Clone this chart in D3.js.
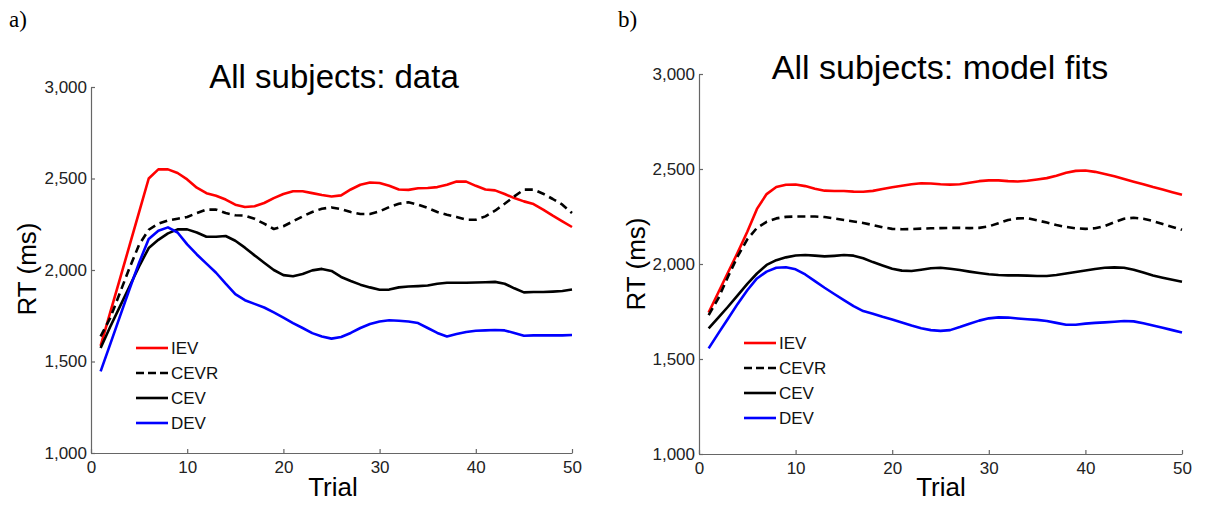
<!DOCTYPE html>
<html>
<head>
<meta charset="utf-8">
<script src="https://cdn.jsdelivr.net/npm/d3@7"></script>
<style>
  html, body { margin: 0; padding: 0; background: #fff; }
  svg { display: block; }
  .tick text { font-family: "Liberation Sans", Arial, sans-serif; font-size: 17px; fill: #222; }
</style>
</head>
<body>
<svg id="chart" width="1207" height="506"></svg>
<script>
// ---------- data ----------
const trials = d3.range(1, 51);
const seriesNames = ["IEV", "CEVR", "CEV", "DEV"];
const seriesColors = ["#ff0000", "#000000", "#000000", "#0000ff"];
const seriesDashed = [false, true, false, false];
const xTicks = [0, 10, 20, 30, 40, 50];
const yTicks = [1000, 1500, 2000, 2500, 3000];
const panelLetters = ["a)", "b)"];
const panelTitles = ["All subjects: data", "All subjects: model fits"];

// panel a: data
const dataIEV = [1585,1768,1950,2133,2316,2500,2550,2550,2530,2495,2450,2420,2406,2385,2357,2344,2348,2366,2393,2415,2430,2430,2420,2410,2402,2408,2440,2466,2478,2475,2460,2440,2438,2447,2448,2453,2466,2483,2483,2460,2440,2435,2415,2393,2375,2360,2330,2297,2266,2235];
const dataCEVR = [1637,1738,1874,2011,2138,2220,2253,2271,2280,2290,2311,2330,2330,2311,2299,2297,2280,2253,2224,2239,2266,2293,2317,2335,2342,2333,2317,2306,2306,2320,2344,2362,2370,2357,2339,2317,2302,2290,2275,2275,2293,2324,2362,2402,2439,2439,2417,2388,2357,2311];
const dataCEV = [1574,1690,1800,1910,2020,2120,2165,2200,2222,2222,2205,2182,2182,2186,2160,2122,2080,2040,2000,1972,1966,1978,1998,2006,1995,1962,1940,1920,1905,1892,1893,1905,1910,1912,1915,1925,1930,1930,1930,1932,1933,1935,1925,1900,1878,1880,1880,1882,1885,1893];
const dataDEV = [1446,1595,1745,1895,2040,2170,2215,2233,2205,2140,2085,2035,1985,1925,1868,1835,1815,1795,1768,1740,1710,1683,1655,1637,1625,1634,1656,1683,1705,1719,1725,1723,1719,1710,1683,1656,1637,1650,1661,1668,1670,1672,1670,1656,1641,1643,1643,1643,1643,1645];

// panel b: model fits
const fitIEV = [1745,1850,1955,2060,2170,2290,2368,2405,2417,2418,2410,2396,2386,2384,2384,2381,2380,2385,2395,2404,2412,2420,2425,2424,2420,2418,2420,2428,2436,2440,2440,2436,2434,2438,2445,2452,2465,2480,2490,2492,2485,2474,2462,2447,2433,2420,2405,2392,2378,2365];
const fitCEVR = [1731,1819,1933,2040,2130,2190,2222,2240,2248,2250,2250,2250,2247,2240,2232,2224,2216,2205,2193,2185,2183,2184,2186,2188,2189,2190,2190,2189,2190,2198,2215,2232,2240,2241,2230,2218,2205,2195,2188,2185,2188,2200,2220,2238,2243,2238,2226,2210,2195,2180];
const fitCEV = [1661,1718,1775,1835,1895,1950,1995,2020,2035,2045,2047,2044,2040,2043,2047,2044,2030,2010,1992,1975,1965,1963,1970,1978,1980,1975,1968,1960,1953,1946,1942,1940,1940,1939,1937,1937,1942,1950,1958,1966,1974,1980,1982,1980,1970,1955,1940,1928,1917,1907];
const fitDEV = [1556,1635,1712,1790,1862,1924,1960,1980,1983,1972,1945,1910,1875,1842,1810,1778,1752,1738,1722,1708,1692,1676,1662,1652,1648,1652,1668,1686,1702,1714,1719,1718,1713,1709,1706,1700,1690,1680,1680,1686,1690,1693,1696,1700,1698,1688,1676,1664,1652,1640];

const panelSeries = [
  [dataIEV, dataCEVR, dataCEV, dataDEV],
  [fitIEV, fitCEVR, fitCEV, fitDEV]
];

// ---------- layout ----------
const panels = [
  { x0: 91, x1: 572, yTop: 87, yBot: 453, titleX: 334, titleY: 88, titleSize: 33,
    letterX: 9, ylabX: 27, ylabY: 269, xlabX: 333, legX: 136, legY: 348 },
  { x0: 699, x1: 1182, yTop: 74, yBot: 454, titleX: 940, titleY: 79, titleSize: 34,
    letterX: 618, ylabX: 636, ylabY: 264, xlabX: 941, legX: 744, legY: 343 }
];

const svg = d3.select("#chart");
const font = '"Liberation Sans", Arial, sans-serif';

panels.forEach((p, pi) => {
  const x = d3.scaleLinear().domain([0, 50]).range([p.x0, p.x1]);
  const y = d3.scaleLinear().domain([1000, 3000]).range([p.yBot, p.yTop]);
  const g = svg.append("g");

  // axes
  const xAxis = d3.axisBottom(x).tickValues(xTicks).tickSize(-4).tickSizeOuter(0).tickPadding(8).tickFormat(d3.format("d"));
  const gx = g.append("g").attr("transform", `translate(0,${p.yBot})`).call(xAxis);
  const yAxis = d3.axisLeft(y).tickValues(yTicks).tickSize(-4).tickSizeOuter(0).tickPadding(4).tickFormat(d3.format(","));
  const gy = g.append("g").attr("transform", `translate(${p.x0},0)`).call(yAxis);
  [gx, gy].forEach(a => {
    a.select(".domain").attr("stroke", "#666").attr("stroke-width", 1.2);
    a.selectAll(".tick line").attr("stroke", "#666").attr("stroke-width", 1.2);
  });

  // lines
  const line = d3.line().x((d, i) => x(trials[i])).y(d => y(d));
  panelSeries[pi].forEach((vals, si) => {
    g.append("path")
      .datum(vals)
      .attr("fill", "none")
      .attr("stroke", seriesColors[si])
      .attr("stroke-width", 2.6)
      .attr("stroke-linejoin", "round")
      .attr("stroke-dasharray", seriesDashed[si] ? "8,5" : null)
      .attr("d", line);
  });

  // legend
  seriesNames.forEach((name, si) => {
    const ly = p.legY + si * 25;
    g.append("line")
      .attr("x1", p.legX).attr("x2", p.legX + 32)
      .attr("y1", ly).attr("y2", ly)
      .attr("stroke", seriesColors[si])
      .attr("stroke-width", 2.6)
      .attr("stroke-dasharray", seriesDashed[si] ? "8,4" : null);
    g.append("text")
      .attr("x", p.legX + 35).attr("y", ly)
      .attr("dy", "0.36em")
      .attr("font-family", font).attr("font-size", 17).attr("fill", "#111")
      .text(name);
  });

  // title
  g.append("text")
    .attr("x", p.titleX).attr("y", p.titleY)
    .attr("text-anchor", "middle")
    .attr("font-family", font).attr("font-size", p.titleSize).attr("fill", "#000")
    .text(panelTitles[pi]);

  // axis labels
  g.append("text")
    .attr("transform", `translate(${p.ylabX},${p.ylabY}) rotate(-90)`)
    .attr("text-anchor", "middle").attr("dy", "0.36em")
    .attr("font-family", font).attr("font-size", 26).attr("fill", "#000")
    .text("RT (ms)");
  g.append("text")
    .attr("x", p.xlabX).attr("y", 496)
    .attr("text-anchor", "middle")
    .attr("font-family", font).attr("font-size", 26).attr("fill", "#000")
    .text("Trial");

  // panel letter
  g.append("text")
    .attr("x", p.letterX).attr("y", 27)
    .attr("font-family", '"Liberation Serif", "Times New Roman", serif')
    .attr("font-size", 23).attr("fill", "#000")
    .text(panelLetters[pi]);
});
</script>
</body>
</html>
